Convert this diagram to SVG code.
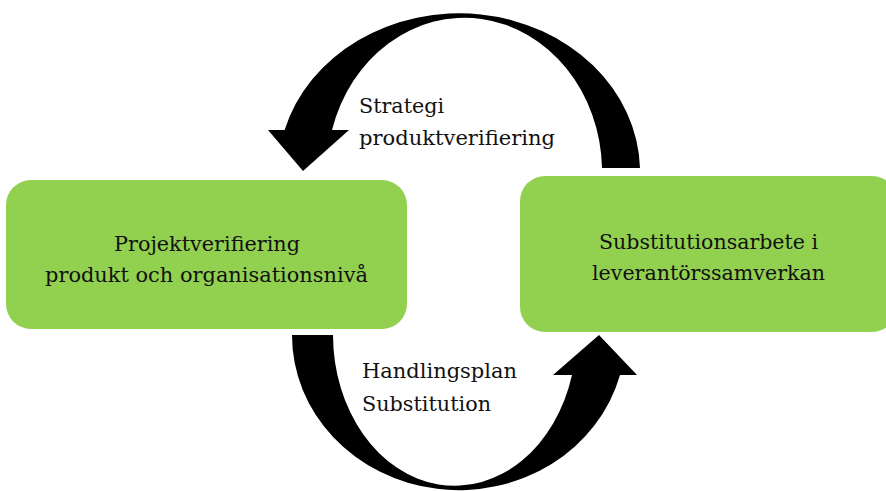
<svg xmlns="http://www.w3.org/2000/svg" width="886" height="491" viewBox="0 0 886 491">
<style>
.box{fill:#92D050;}
.arrow{fill:#000;}
text{font-family:Georgia,"DejaVu Serif","Liberation Serif",serif;font-size:20.5px;fill:#111;}
.c{text-anchor:middle;}
</style>
<rect width="886" height="491" fill="#fff"/>
<g id="connectors">
<path id="arrow-top" class="arrow" d="M 640,168 A 181 159 0 0 0 284.6,130 L 268,130 L 303,171 L 349,130 L 332,130 A 137.6 154 0 0 1 602,168 Z"/>
<path id="arrow-bottom" class="arrow" d="M 292,335 A 166.8 155 0 0 0 620,375 L 637,375 L 599,335 L 553,375 L 572,375 A 121.7 151 0 0 1 333,335 Z"/>
<text x="359" y="113" textLength="85" lengthAdjust="spacingAndGlyphs">Strategi</text>
<text x="359" y="145" textLength="196" lengthAdjust="spacingAndGlyphs">produktverifiering</text>
<text x="362" y="378" textLength="155" lengthAdjust="spacingAndGlyphs">Handlingsplan</text>
<text x="362" y="411" textLength="129" lengthAdjust="spacingAndGlyphs">Substitution</text>
</g>
<g id="node-projekt">
<rect class="box" x="6" y="180" width="401" height="149" rx="25" ry="25"/>
<text class="c" x="207" y="251" textLength="186" lengthAdjust="spacingAndGlyphs">Projektverifiering</text>
<text class="c" x="206.5" y="282" textLength="323" lengthAdjust="spacingAndGlyphs">produkt och organisationsnivå</text>
</g>
<g id="node-substitution">
<rect class="box" x="520" y="176" width="377" height="156" rx="25" ry="25"/>
<text class="c" x="708.5" y="249" textLength="219" lengthAdjust="spacingAndGlyphs">Substitutionsarbete i</text>
<text class="c" x="708.5" y="280" textLength="233" lengthAdjust="spacingAndGlyphs">leverantörssamverkan</text>
</g>
</svg>
